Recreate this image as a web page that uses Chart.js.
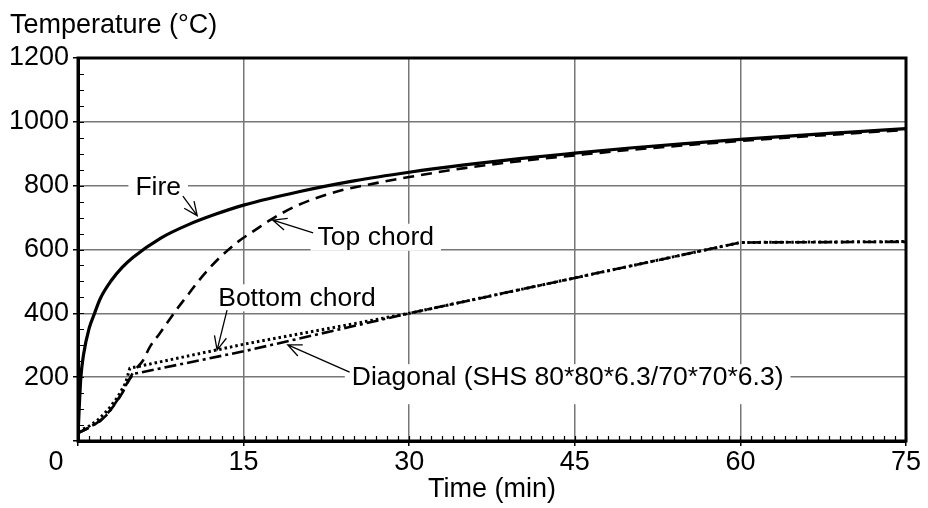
<!DOCTYPE html>
<html>
<head>
<meta charset="utf-8">
<script src="https://cdn.jsdelivr.net/npm/chart.js@4/dist/chart.umd.min.js"></script>
<style>
    body { margin: 0; background: #fff; }
    #wrap { width: 928px; height: 508px; }
</style>
</head>
<body>
<div id="wrap"><canvas id="temp-chart"></canvas></div>
<script>
// Values (time in min, temperature in °C)
const fireTime = [0, 0.25, 0.5, 1, 1.5, 2, 3, 4, 5, 7.5, 10, 12.5, 15, 20, 25, 30, 35, 40, 45, 50, 55, 60, 65, 70, 75];
const fireTemp = [20, 195, 270, 352, 400, 445, 502, 544, 576, 636, 678, 711, 739, 781, 815, 842, 865, 885, 902, 918, 932, 945, 957, 968, 979];

const topTime = [0, 1, 2, 3, 4, 5, 5.9, 6.5, 7.4, 9, 10, 11, 12, 13, 14.4, 16, 17.4, 19.8, 23.7, 27, 30, 35, 40, 45, 50, 60, 75];
const topTemp = [25, 42, 64, 100, 150, 215, 253, 294, 337, 415, 460, 505, 545, 580, 622, 660, 692, 737, 784, 808, 827, 855, 877, 895, 912, 940, 975];

const bottomTime = [0, 0.9, 1.8, 2.7, 3.6, 4.3, 4.7, 15, 30, 45, 60, 75];
const bottomTemp = [31, 44, 66, 97, 138, 181, 228, 303, 400, 511, 622, 625];

const diagTime = [0, 1, 2, 2.7, 3.8, 4.5, 5, 15, 30, 45, 60, 75];
const diagTemp = [25, 42, 62, 85, 140, 185, 210, 281, 400, 511, 622, 624];

const xTicks = [0, 75, 15];      // min, max, step
const yTicks = [0, 1200, 200];

// annotations: text, anchor (time, temp), arrow tail and tip
const noteText = ["Fire", "Top chord", "Bottom chord", "Diagonal (SHS 80*80*6.3/70*70*6.3)"];
const noteAt = [[5.2, 797], [21.7, 640], [12.7, 450], [24.8, 200]];
const arrowTail = [[9.5, 767], [21.3, 652], [13.5, 410], [24.6, 216]];
const arrowTip = [[10.8, 706], [17.65, 692], [12.6, 285], [19.0, 301]];

const FONT = "'Liberation Sans', Arial, sans-serif";

function pts(xs, ys) {
    return xs.map((x, i) => ({ x: x, y: ys[i] }));
}

function arrow(ctx, x1, y1, x2, y2) {
    let a = Math.atan2(y2 - y1, x2 - x1);
    let h = 15, s = 0.42;
    ctx.beginPath();
    ctx.moveTo(x1, y1);
    ctx.lineTo(x2, y2);
    ctx.moveTo(x2 - h * Math.cos(a - s), y2 - h * Math.sin(a - s));
    ctx.lineTo(x2, y2);
    ctx.lineTo(x2 - h * Math.cos(a + s), y2 - h * Math.sin(a + s));
    ctx.stroke();
}

const decor = {
    id: "decor",
    beforeDatasetsDraw(chart) {
        let ctx = chart.ctx, xs = chart.scales.x, ys = chart.scales.y;
        ctx.save();
        ctx.font = "26.5px " + FONT;
        ctx.textBaseline = "middle";
        noteText.forEach((t, i) => {
            let px = xs.getPixelForValue(noteAt[i][0]);
            let py = ys.getPixelForValue(noteAt[i][1]);
            let w = ctx.measureText(t).width;
            ctx.fillStyle = "#fff";
            ctx.fillRect(px - 7, py - 13, w + 14, i === 3 ? 40 : 27);
            ctx.fillStyle = "#000";
            ctx.fillText(t, px, py + 1);
        });
        ctx.restore();
    },
    afterDatasetsDraw(chart) {
        let ctx = chart.ctx, xs = chart.scales.x, ys = chart.scales.y;
        ctx.save();
        ctx.strokeStyle = "#000";
        ctx.lineWidth = 1.3;
        arrowTail.forEach((p, i) => {
            arrow(ctx,
                xs.getPixelForValue(p[0]), ys.getPixelForValue(p[1]),
                xs.getPixelForValue(arrowTip[i][0]), ys.getPixelForValue(arrowTip[i][1]));
        });
        ctx.restore();
    },
    afterDraw(chart) {
        let ctx = chart.ctx, a = chart.chartArea;
        let xs = chart.scales.x, ys = chart.scales.y;
        ctx.save();
        // minor ticks, pointing inwards
        ctx.strokeStyle = "#000";
        ctx.lineWidth = 1.2;
        ctx.beginPath();
        for (let v = yTicks[0]; v <= yTicks[1]; v += 50) {
            let py = Math.round(ys.getPixelForValue(v)) + 0.5;
            ctx.moveTo(a.left, py);
            ctx.lineTo(a.left + 6, py);
        }
        for (let v = xTicks[0]; v <= xTicks[1]; v += 1) {
            let px = Math.round(xs.getPixelForValue(v)) + 0.5;
            ctx.moveTo(px, a.bottom);
            ctx.lineTo(px, a.bottom - 5);
        }
        ctx.stroke();
        // frame
        ctx.lineWidth = 3;
        ctx.strokeRect(a.left, a.top, a.right - a.left, a.bottom - a.top);
        // texts
        ctx.fillStyle = "#000";
        ctx.font = "27px " + FONT;
        ctx.textAlign = "center";
        ctx.textBaseline = "middle";
        ctx.fillText("0", 56, 463);
        ctx.textAlign = "left";
        ctx.textBaseline = "alphabetic";
        ctx.fillText("Temperature (°C)", 10, 33);
        ctx.restore();
    }
};

const tickFont = { family: FONT, size: 27 };

new Chart(document.getElementById("temp-chart").getContext("2d"), {
    type: "line",
    data: {
        datasets: [
            {
                label: "Fire",
                data: pts(fireTime, fireTemp),
                borderColor: "#000",
                borderWidth: 3.2,
                cubicInterpolationMode: "monotone",
            },
            {
                label: "Top chord",
                data: pts(topTime, topTemp),
                borderColor: "#000",
                borderWidth: 2.6,
                borderDash: [11, 7],
                cubicInterpolationMode: "monotone",
            },
            {
                label: "Bottom chord",
                data: pts(bottomTime, bottomTemp),
                borderColor: "#000",
                borderWidth: 3,
                borderDash: [2.5, 3],
                tension: 0,
            },
            {
                label: "Diagonal",
                data: pts(diagTime, diagTemp),
                borderColor: "#000",
                borderWidth: 2.6,
                borderDash: [12, 4, 3, 4],
                tension: 0,
            },
        ],
    },
    options: {
        responsive: true,
        maintainAspectRatio: false,
        animation: false,
        events: [],
        elements: { point: { radius: 0 } },
        layout: { padding: { top: 58, right: 22, left: 0, bottom: 0 } },
        plugins: {
            legend: { display: false },
            tooltip: { enabled: false },
        },
        scales: {
            x: {
                type: "linear",
                min: xTicks[0],
                max: xTicks[1],
                afterFit: (s) => { s.height = 67; },
                ticks: {
                    stepSize: xTicks[2],
                    color: "#000",
                    font: tickFont,
                    padding: 0,
                    maxRotation: 0,
                    callback: (v) => (v === 0 ? "" : v),
                },
                grid: { color: "#777", lineWidth: 1.5, tickLength: 5, tickColor: "#000", tickWidth: 1.5 },
                border: { color: "#000", width: 3 },
                title: {
                    display: true,
                    text: "Time (min)",
                    color: "#000",
                    font: { family: FONT, size: 27 },
                    padding: { top: 0, bottom: 2 },
                },
            },
            y: {
                min: yTicks[0],
                max: yTicks[1],
                afterFit: (s) => { s.width = 78; },
                ticks: {
                    stepSize: yTicks[2],
                    color: "#000",
                    font: tickFont,
                    padding: 4,
                    callback: (v) => (v === 0 ? "" : v),
                },
                grid: { color: "#777", lineWidth: 1.5, tickLength: 5, tickColor: "#000", tickWidth: 1.5 },
                border: { color: "#000", width: 3 },
            },
        },
    },
    plugins: [decor],
});
</script>
</body>
</html>
